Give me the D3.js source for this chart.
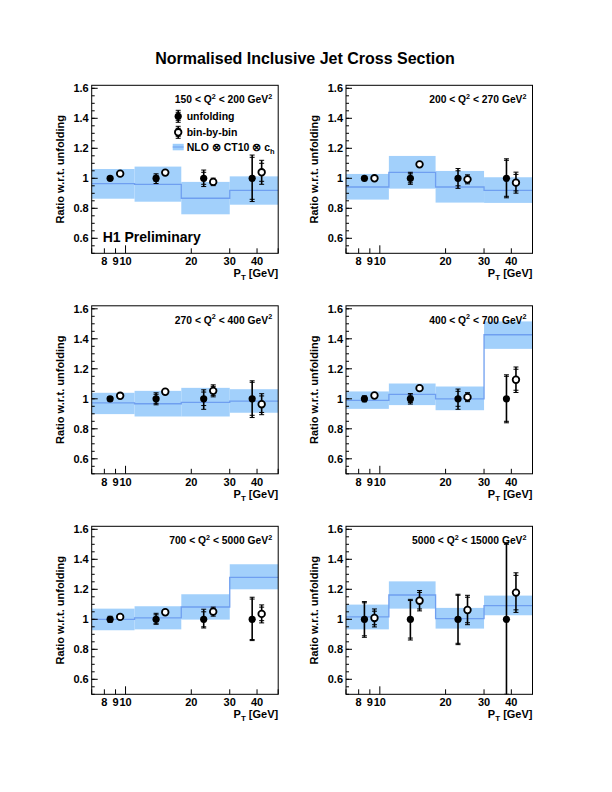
<html>
<head>
<style>
  body { margin: 0; background: #fff; }
  text { font-family: "Liberation Sans", Arial, Helvetica, sans-serif; font-weight: bold; fill: #000; }
</style>
</head>
<body>
<svg id="chart"></svg>
<script src="https://d3js.org/d3.v7.min.js"></script>
<script>
// ---- data ----
var ptEdges = [7, 11, 18, 30, 50]
var ptUnfolding = [8.5, 13.8, 22.8, 38]
var ptBinByBin = [9.45, 15.2, 25.2, 42]
var q2Low = ["150", "200", "270", "400", "700", "5000"]
var q2High = ["200", "270", "400", "700", "5000", "15000"]
var xTickLabels = [8, 9, 10, 20, 30, 40]
var xTicksAll = [7, 8, 9, 10, 20, 30, 40, 50]
var yTickLabels = [0.6, 0.8, 1, 1.2, 1.4, 1.6]

var nloCentral = [
  [0.964, 0.960, 0.867, 0.920],
  [0.942, 1.040, 0.942, 0.920],
  [0.973, 0.967, 0.976, 0.984],
  [0.989, 1.029, 1.000, 1.427],
  [1.000, 1.009, 1.082, 1.280],
  [1.016, 1.162, 1.004, 1.091]]
var nloUp = [
  [1.062, 1.078, 0.976, 1.013],
  [1.029, 1.149, 1.049, 1.007],
  [1.040, 1.053, 1.073, 1.064],
  [1.049, 1.102, 1.082, 1.516],
  [1.071, 1.087, 1.167, 1.367],
  [1.098, 1.253, 1.076, 1.158]]
var nloDown = [
  [0.864, 0.844, 0.760, 0.824],
  [0.858, 0.931, 0.838, 0.836],
  [0.898, 0.882, 0.882, 0.907],
  [0.933, 0.958, 0.924, 1.333],
  [0.927, 0.933, 0.998, 1.200],
  [0.933, 1.071, 0.938, 1.027]]

var unfoldingValue = [
  [1, 1, 1, 1], [1, 1, 1, 1], [1, 1, 1, 1],
  [1, 1, 1, 1], [1, 1, 1, 1], [1, 1, 1, 1]]
var unfoldingErrUp = [
  [0.012, 0.030, 0.055, 0.155],
  [0.012, 0.040, 0.065, 0.130],
  [0.015, 0.040, 0.060, 0.120],
  [0.020, 0.035, 0.065, 0.160],
  [0.020, 0.040, 0.067, 0.147],
  [0.118, 0.133, 0.167, 0.510]]
var unfoldingErrDown = [
  [0.012, 0.035, 0.055, 0.155],
  [0.012, 0.040, 0.067, 0.130],
  [0.015, 0.040, 0.070, 0.125],
  [0.020, 0.035, 0.070, 0.160],
  [0.020, 0.033, 0.058, 0.142],
  [0.120, 0.138, 0.169, 0.600]]
var unfoldingStat = [
  [0.006, 0.020, 0.040, 0.140],
  [0.006, 0.030, 0.050, 0.120],
  [0.008, 0.030, 0.045, 0.110],
  [0.010, 0.025, 0.050, 0.150],
  [0.010, 0.030, 0.050, 0.135],
  [0.110, 0.125, 0.160, 0.500]]

var binByBinValue = [
  [1.031, 1.038, 0.976, 1.040],
  [1.000, 1.093, 0.993, 0.971],
  [1.020, 1.047, 1.053, 0.964],
  [1.022, 1.071, 1.011, 1.127],
  [1.016, 1.047, 1.051, 1.036],
  [1.009, 1.124, 1.062, 1.178]]
var binByBinErr = [
  [0.010, 0.012, 0.025, 0.080],
  [0.010, 0.012, 0.030, 0.070],
  [0.012, 0.015, 0.040, 0.070],
  [0.012, 0.015, 0.030, 0.085],
  [0.012, 0.015, 0.030, 0.060],
  [0.060, 0.068, 0.098, 0.132]]
var binByBinStat = [
  [0.005, 0.006, 0.015, 0.060],
  [0.005, 0.006, 0.020, 0.055],
  [0.006, 0.008, 0.030, 0.055],
  [0.006, 0.008, 0.020, 0.070],
  [0.006, 0.008, 0.020, 0.045],
  [0.045, 0.055, 0.085, 0.115]]

// ---- layout ----
var width = 612, height = 792
var svg = d3.select('#chart').attr('width', width).attr('height', height)

var bandFill = '#9dcdfb'
var bandLine = '#6f9ff0'

svg.append('text').attr('x', 305).attr('y', 64).attr('text-anchor', 'middle')
   .style('font-size', '16px').text('Normalised Inclusive Jet Cross Section')

var colX = [91.7, 346]
var rowY = [85.3, 305.8, 526.3]
var pw = 186.5, ph = 168

function supLabel(g, x, y, lo, hi) {
  var t = g.append('text').attr('x', x).attr('y', y).attr('text-anchor', 'end').style('font-size', '10.3px')
  t.append('tspan').text(lo + ' < Q')
  t.append('tspan').attr('dy', -4.5).style('font-size', '7.2px').text('2')
  t.append('tspan').attr('dy', 4.5).text(' < ' + hi + ' GeV')
  t.append('tspan').attr('dy', -4.5).style('font-size', '7.2px').text('2')
}

function errBar(g, x, y, yUp, yDn, yStUp, yStDn) {
  g.append('line').attr('x1', x).attr('x2', x).attr('y1', yUp).attr('y2', yDn)
   .attr('stroke', '#000').attr('stroke-width', 1.6)
  ;[yUp, yDn, yStUp, yStDn].forEach(function(v) {
    g.append('line').attr('x1', x - 2.5).attr('x2', x + 2.5).attr('y1', v).attr('y2', v)
     .attr('stroke', '#000').attr('stroke-width', 1)
  })
}

for (var p = 0; p < 6; p++) {
  var col = p % 2, row = Math.floor(p / 2)
  var g = svg.append('g').attr('transform', 'translate(' + colX[col] + ',' + rowY[row] + ')')

  var x = d3.scaleLog().domain([7, 50]).range([0, pw])
  var y = d3.scaleLinear().domain([0.5, 1.62]).range([ph, 0])

  g.append('clipPath').attr('id', 'clip' + p).append('rect').attr('width', pw).attr('height', ph)
  var plot = g.append('g').attr('clip-path', 'url(#clip' + p + ')')

  // NLO bands
  var bins = d3.range(4)
  plot.selectAll('rect.band').data(bins).enter().append('rect')
      .attr('x', function(i) { return x(ptEdges[i]) })
      .attr('width', function(i) { return x(ptEdges[i + 1]) - x(ptEdges[i]) })
      .attr('y', function(i) { return y(nloUp[p][i]) })
      .attr('height', function(i) { return y(nloDown[p][i]) - y(nloUp[p][i]) })
      .style('fill', bandFill).style('opacity', 0.95)
  var step = []
  bins.forEach(function(i) {
    step.push([x(ptEdges[i]), y(nloCentral[p][i])])
    step.push([x(ptEdges[i + 1]), y(nloCentral[p][i])])
  })
  plot.append('path').attr('d', d3.line()(step)).attr('fill', 'none')
      .attr('stroke', bandLine).attr('stroke-width', 1.3)

  // points
  bins.forEach(function(i) {
    var xu = x(ptUnfolding[i]), v = unfoldingValue[p][i]
    errBar(plot, xu, y(v), y(v + unfoldingErrUp[p][i]), y(v - unfoldingErrDown[p][i]),
           y(v + unfoldingStat[p][i]), y(v - unfoldingStat[p][i]))
    plot.append('circle').attr('cx', xu).attr('cy', y(v)).attr('r', 3.6).style('fill', '#000')

    var xb = x(ptBinByBin[i]), w = binByBinValue[p][i]
    errBar(plot, xb, y(w), y(w + binByBinErr[p][i]), y(w - binByBinErr[p][i]),
           y(w + binByBinStat[p][i]), y(w - binByBinStat[p][i]))
    plot.append('circle').attr('cx', xb).attr('cy', y(w)).attr('r', 3.3)
        .style('fill', '#fff').attr('stroke', '#000').attr('stroke-width', 1.8)
  })

  // frame
  g.append('rect').attr('width', pw).attr('height', ph).attr('fill', 'none')
   .attr('stroke', '#000').attr('stroke-width', 1)

  // y ticks (inside)
  var yMinor = d3.range(0.5, 1.6201, 0.05)
  g.selectAll('line.ymin').data(yMinor).enter().append('line')
   .attr('x1', 0).attr('x2', 3).attr('y1', function(d) { return y(d) }).attr('y2', function(d) { return y(d) })
   .attr('stroke', '#000').attr('stroke-width', 1)
  g.selectAll('line.ymaj').data(yTickLabels).enter().append('line')
   .attr('x1', 0).attr('x2', 6).attr('y1', function(d) { return y(d) }).attr('y2', function(d) { return y(d) })
   .attr('stroke', '#000').attr('stroke-width', 1)
  g.selectAll('text.ylab').data(yTickLabels).enter().append('text')
   .attr('x', -3).attr('y', function(d) { return y(d) + 4 }).attr('text-anchor', 'end')
   .style('font-size', '11px').text(function(d) { return d === 1 ? '1' : d3.format('.1f')(d) })

  // x ticks (inside)
  g.selectAll('line.xt').data(xTicksAll).enter().append('line')
   .attr('x1', function(d) { return x(d) }).attr('x2', function(d) { return x(d) })
   .attr('y1', ph).attr('y2', function(d) { return d === 10 ? ph - 8 : ph - 5 })
   .attr('stroke', '#000').attr('stroke-width', 1)
  g.selectAll('text.xlab').data(xTickLabels).enter().append('text')
   .attr('x', function(d) { return x(d) }).attr('y', ph + 12).attr('text-anchor', 'middle')
   .style('font-size', '11px').text(function(d) { return d })

  // axis titles
  var xt = g.append('text').attr('x', pw).attr('y', ph + 24).attr('text-anchor', 'end').style('font-size', '11px')
  xt.append('tspan').text('P')
  xt.append('tspan').attr('dy', 3).style('font-size', '8px').text('T')
  xt.append('tspan').attr('dy', -3).text(' [GeV]')
  g.append('text').attr('transform', 'translate(-28,' + (ph / 2) + ') rotate(-90)')
   .attr('text-anchor', 'middle').style('font-size', '11px').text('Ratio w.r.t. unfolding')

  supLabel(g, pw - 6, 18, q2Low[p], q2High[p])

  if (p === 0) {
    var lx = 86.5
    errBar(g, lx, 31, 25, 37, 27, 35)
    g.append('circle').attr('cx', lx).attr('cy', 31).attr('r', 3.6).style('fill', '#000')
    g.append('text').attr('x', 95).attr('y', 31 + 4).style('font-size', '10.5px').text('unfolding')
    errBar(g, lx, 47, 41, 53, 43, 51)
    g.append('circle').attr('cx', lx).attr('cy', 47).attr('r', 3.3).style('fill', '#fff')
     .attr('stroke', '#000').attr('stroke-width', 1.8)
    g.append('text').attr('x', 95).attr('y', 47 + 4).style('font-size', '10.5px').text('bin-by-bin')
    g.append('rect').attr('x', 81).attr('y', 58.5).attr('width', 11).attr('height', 6.5).style('fill', bandFill)
    g.append('line').attr('x1', 81).attr('x2', 92).attr('y1', 61.7).attr('y2', 61.7).attr('stroke', bandLine)
    var nt = g.append('text').attr('x', 95).attr('y', 65.5).style('font-size', '10.5px')
    nt.append('tspan').text('NLO \u2297 CT10 \u2297 c')
    nt.append('tspan').attr('dy', 3).style('font-size', '7.5px').text('h')
    g.append('text').attr('x', 11).attr('y', 156.5).style('font-size', '14px').text('H1 Preliminary')
  }
}
</script>
</body>
</html>
